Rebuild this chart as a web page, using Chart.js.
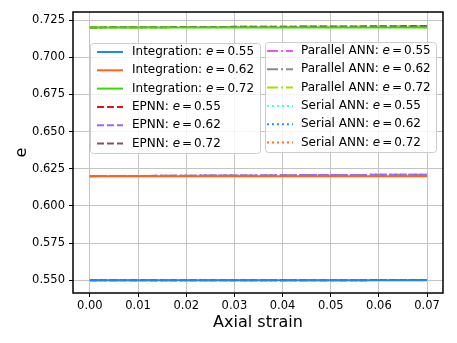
<!DOCTYPE html>
<html>

<head>
    <title>Void ratio vs axial strain</title>
    <script src="https://cdn.jsdelivr.net/npm/chart.js"></script>
    <style>
        body {
            background-color: #ffffff;
            margin: 0;
            padding: 0;
        }

        .chart-box {
            width: 457px;
            height: 343px;
        }
    </style>
</head>

<body>
    <div class="chart-box">
        <canvas id="myChart" width="457" height="343"></canvas>
    </div>

    <script>
        // Data
        const strain = [0.000, 0.005, 0.010, 0.015, 0.020, 0.025, 0.030, 0.035, 0.040, 0.045, 0.050, 0.055, 0.060, 0.065, 0.070];
        const eLevels = ['0.55', '0.62', '0.72'];

        const integration055 = [0.5500, 0.5500, 0.5500, 0.5500, 0.5500, 0.5500, 0.5500, 0.5500, 0.5500, 0.5500, 0.5500, 0.5500, 0.5500, 0.5500, 0.5500];
        const integration062 = [0.6200, 0.6200, 0.6200, 0.6200, 0.6200, 0.6200, 0.6200, 0.6200, 0.6200, 0.6200, 0.6200, 0.6199, 0.6199, 0.6199, 0.6199];
        const integration072 = [0.7200, 0.7200, 0.7200, 0.7200, 0.7200, 0.7200, 0.7200, 0.7200, 0.7200, 0.7200, 0.7200, 0.7200, 0.7200, 0.7200, 0.7200];

        const epnn055 = [0.5500, 0.5500, 0.5500, 0.5500, 0.5500, 0.5500, 0.5500, 0.5500, 0.5500, 0.5500, 0.5500, 0.5500, 0.5501, 0.5501, 0.5501];
        const epnn062 = [0.6200, 0.6201, 0.6201, 0.6202, 0.6203, 0.6204, 0.6204, 0.6205, 0.6206, 0.6207, 0.6207, 0.6208, 0.6209, 0.6210, 0.6210];
        const epnn072 = [0.7200, 0.7201, 0.7201, 0.7202, 0.7203, 0.7203, 0.7204, 0.7205, 0.7205, 0.7206, 0.7207, 0.7207, 0.7208, 0.7209, 0.7209];

        const parallel055 = [0.5500, 0.5500, 0.5500, 0.5500, 0.5500, 0.5500, 0.5500, 0.5500, 0.5500, 0.5500, 0.5500, 0.5500, 0.5501, 0.5501, 0.5501];
        const parallel062 = [0.6200, 0.6201, 0.6201, 0.6202, 0.6203, 0.6204, 0.6204, 0.6205, 0.6206, 0.6207, 0.6207, 0.6208, 0.6209, 0.6210, 0.6210];
        const parallel072 = [0.7200, 0.7201, 0.7201, 0.7202, 0.7203, 0.7203, 0.7204, 0.7205, 0.7205, 0.7206, 0.7207, 0.7207, 0.7208, 0.7209, 0.7209];

        const serial055 = [0.5500, 0.5500, 0.5500, 0.5500, 0.5500, 0.5500, 0.5500, 0.5500, 0.5500, 0.5500, 0.5500, 0.5500, 0.5501, 0.5501, 0.5501];
        const serial062 = [0.6200, 0.6201, 0.6201, 0.6202, 0.6203, 0.6204, 0.6204, 0.6205, 0.6206, 0.6207, 0.6207, 0.6208, 0.6209, 0.6210, 0.6210];
        const serial072 = [0.7200, 0.7201, 0.7201, 0.7202, 0.7203, 0.7203, 0.7204, 0.7205, 0.7205, 0.7206, 0.7207, 0.7207, 0.7208, 0.7209, 0.7209];

        const yTicks = [0.550, 0.575, 0.600, 0.625, 0.650, 0.675, 0.700, 0.725];
        const xTicks = [0.00, 0.01, 0.02, 0.03, 0.04, 0.05, 0.06, 0.07];

        // line styles (matplotlib-like)
        const DASHED = [7, 3];
        const DASHDOT = [11, 3, 2, 3];
        const DOTTED = [2, 3];

        function series(name, e, values, color, dash) {
            return {
                label: name + ': e = ' + e,
                legendName: name + ': ',
                legendValue: e,
                data: strain.map(function(x, i) {
                    return { x: x, y: values[i] };
                }),
                borderColor: color,
                backgroundColor: color,
                borderWidth: 2,
                borderDash: dash,
                pointRadius: 0,
                fill: false,
                tension: 0
            };
        }

        const datasets = [
            series('Integration', eLevels[0], integration055, '#1e88f0', []),
            series('Integration', eLevels[1], integration062, '#ff6410', []),
            series('Integration', eLevels[2], integration072, '#33dd00', []),
            series('EPNN', eLevels[0], epnn055, '#ee1111', DASHED),
            series('EPNN', eLevels[1], epnn062, '#9966ff', DASHED),
            series('EPNN', eLevels[2], epnn072, '#8c5050', DASHED),
            series('Parallel ANN', eLevels[0], parallel055, '#ee55ee', DASHDOT),
            series('Parallel ANN', eLevels[1], parallel062, '#8a8a8a', DASHDOT),
            series('Parallel ANN', eLevels[2], parallel072, '#aadd00', DASHDOT),
            series('Serial ANN', eLevels[0], serial055, '#44ffdd', DOTTED),
            series('Serial ANN', eLevels[1], serial062, '#3388ff', DOTTED),
            series('Serial ANN', eLevels[2], serial072, '#ff6a20', DOTTED)
        ];

        // Two-column boxed legend drawn inside the plot, like matplotlib
        const boxLegend = {
            id: 'boxLegend',
            afterDatasetsDraw: function(chart) {
                const c = chart.ctx;
                const sets = chart.data.datasets;
                const cols = [
                    { box: [90, 43, 170, 110], lineX: 97, textX: 132, items: sets.slice(0, 6) },
                    { box: [265, 42, 171, 110], lineX: 267, textX: 301, items: sets.slice(6, 12) }
                ];
                c.save();
                cols.forEach(function(col) {
                    const b = col.box;
                    c.beginPath();
                    c.roundRect(b[0] + 0.5, b[1] + 0.5, b[2], b[3], 3);
                    c.fillStyle = 'rgba(255,255,255,0.8)';
                    c.fill();
                    c.strokeStyle = '#cccccc';
                    c.lineWidth = 1;
                    c.setLineDash([]);
                    c.stroke();
                    col.items.forEach(function(ds, i) {
                        const y = b[1] + 9 + i * 18.3;
                        c.beginPath();
                        c.strokeStyle = ds.borderColor;
                        c.lineWidth = 2;
                        c.setLineDash(ds.borderDash);
                        c.moveTo(col.lineX, y);
                        c.lineTo(col.lineX + 26, y);
                        c.stroke();
                        c.setLineDash([]);
                        c.fillStyle = '#000';
                        c.textBaseline = 'middle';
                        let x = col.textX;
                        c.font = '12px "DejaVu Sans"';
                        c.fillText(ds.legendName, x, y);
                        x += c.measureText(ds.legendName).width;
                        c.font = 'italic 12px "DejaVu Sans"';
                        c.fillText('e', x, y);
                        x += c.measureText('e').width + 2;
                        c.font = '12px "DejaVu Sans"';
                        c.fillText('=', x, y);
                        x += c.measureText('=').width + 2;
                        c.fillText(ds.legendValue, x, y);
                    });
                });
                c.restore();
            },
            afterDraw: function(chart) {
                const a = chart.chartArea;
                const c = chart.ctx;
                c.save();
                c.strokeStyle = '#000';
                c.lineWidth = 1.5;
                c.strokeRect(a.left, a.top, a.right - a.left, a.bottom - a.top);
                c.restore();
            }
        };

        const ctx = document.getElementById('myChart').getContext('2d');
        const myChart = new Chart(ctx, {
            type: 'line',
            data: { datasets: datasets },
            plugins: [boxLegend],
            options: {
                responsive: false,
                animation: false,
                devicePixelRatio: 1,
                layout: { padding: { top: 12, right: 14, left: 0, bottom: 0 } },
                plugins: {
                    legend: { display: false },
                    tooltip: { enabled: false }
                },
                scales: {
                    x: {
                        type: 'linear',
                        min: -0.0035,
                        max: 0.0733,
                        afterBuildTicks: function(scale) {
                            scale.ticks = xTicks.map(function(v) { return { value: v }; });
                        },
                        afterFit: function(scale) { scale.height = 50; },
                        ticks: {
                            font: { family: 'DejaVu Sans', size: 11.5 },
                            color: '#000',
                            padding: 2,
                            maxRotation: 0,
                            callback: function(v) { return v.toFixed(2); }
                        },
                        grid: { color: '#c4c4c4', tickColor: '#000', tickLength: 4, lineWidth: 1 },
                        border: { display: false },
                        title: {
                            display: true,
                            text: 'Axial strain',
                            color: '#000',
                            font: { family: 'DejaVu Sans', size: 16 },
                            padding: { top: 0, bottom: 11 }
                        }
                    },
                    y: {
                        type: 'linear',
                        min: 0.5414,
                        max: 0.7304,
                        afterBuildTicks: function(scale) {
                            scale.ticks = yTicks.map(function(v) { return { value: v }; });
                        },
                        afterFit: function(scale) { scale.width = 73; },
                        ticks: {
                            font: { family: 'DejaVu Sans', size: 11.5 },
                            color: '#000',
                            padding: 4,
                            callback: function(v) { return v.toFixed(3); }
                        },
                        grid: { color: '#c4c4c4', tickColor: '#000', tickLength: 4, lineWidth: 1 },
                        border: { display: false },
                        title: {
                            display: true,
                            text: 'e',
                            color: '#000',
                            font: { family: 'DejaVu Sans', size: 16 },
                            padding: { top: 12, bottom: 0 }
                        }
                    }
                }
            }
        });
    </script>
</body>

</html>
